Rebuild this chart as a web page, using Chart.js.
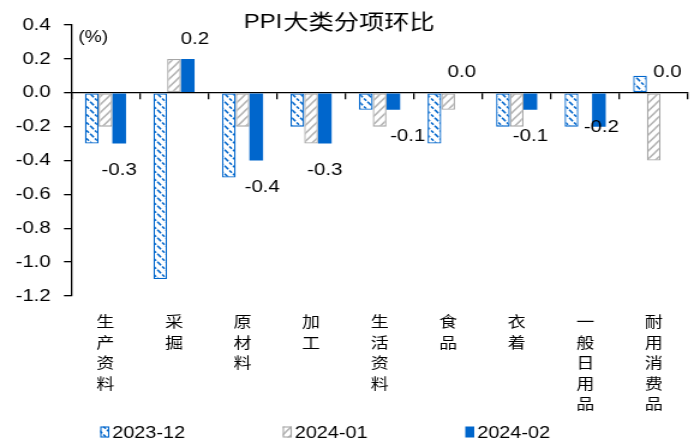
<!DOCTYPE html>
<html>
<head>
<meta charset="utf-8">
<script src="https://cdn.jsdelivr.net/npm/chart.js@4.4.1/dist/chart.umd.min.js"></script>
<style>
  html, body { margin: 0; padding: 0; background: #fff; }
  #wrap { width: 700px; height: 441px; position: relative; }
</style>
</head>
<body>
<!-- the reference picture is stretched sideways, so draw narrower and widen -->
<div id="wrap"><canvas id="ppiChart" width="583" height="441" style="width:700px;height:441px;display:block"></canvas></div>
<script>
const CATEGORIES = ['生产资料', '采掘', '原材料', '加工', '生活资料', '食品', '衣着', '一般日用品', '耐用消费品'];
const SERIES_NAMES = ['2023-12', '2024-01', '2024-02'];
const DEC_2023 = [-0.3, -1.1, -0.5, -0.2, -0.1, -0.3, -0.2, -0.2, 0.1];
const JAN_2024 = [-0.2, 0.2, -0.2, -0.3, -0.2, -0.1, -0.2, 0.0, -0.4];
const FEB_2024 = [-0.3, 0.2, -0.4, -0.3, -0.1, 0.0, -0.1, -0.2, 0.0];
const Y_TICKS = [0.4, 0.2, 0.0, -0.2, -0.4, -0.6, -0.8, -1.0, -1.2];

const BLUE = '#0066CC';
const GREY = '#A6A6A6';
const FONT = 'Arial, "Liberation Sans", sans-serif';
const CJK = '"Noto Sans CJK SC", sans-serif';

// label nudges (px) for the data labels that Excel placed oddly
const LABEL_NUDGE = { 1: [6, 0], 2: [5, 0], 4: [12, 0], 7: [2, -26] };

// ── Hatch patterns ────────────────────────────────────────────────────────────

function hatch(color, forward) {
  const c = document.createElement('canvas');
  c.width = 7; c.height = 8;
  const g = c.getContext('2d');
  g.fillStyle = '#fff';
  g.fillRect(0, 0, 7, 8);
  g.strokeStyle = color;
  g.lineWidth = 1.5;
  g.beginPath();
  if (forward) {
    g.moveTo(-0.875, 9); g.lineTo(7.875, -1);
    g.moveTo(-0.875, 1); g.lineTo(0.875, -1);
    g.moveTo(6.125, 9); g.lineTo(7.875, 7);
  } else {
    g.setLineDash([3, 1.5]);
    g.moveTo(-0.875, -1); g.lineTo(7.875, 9);
    g.moveTo(6.125, -1); g.lineTo(7.875, 1);
    g.moveTo(-0.875, 7); g.lineTo(0.875, 9);
  }
  g.stroke();
  return g.createPattern(c, 'repeat');
}

// ── Plugins ───────────────────────────────────────────────────────────────────

const textPlugin = {
  id: 'ppiText',
  afterDraw(chart) {
    const { ctx, chartArea } = chart;
    ctx.save();
    ctx.fillStyle = '#000';
    ctx.textBaseline = 'middle';
    ctx.textAlign = 'left';
    const latin = 'PPI';
    const han = '大类分项环比';
    ctx.font = `20px ${FONT}`;
    const w1 = ctx.measureText(latin).width;
    ctx.font = `21px ${CJK}`;
    const w2 = ctx.measureText(han).width;
    const x0 = 282 - (w1 + w2) / 2;
    ctx.fillText(han, x0 + w1 + 1, 21);
    ctx.font = `20px ${FONT}`;
    ctx.fillText(latin, x0, 22);
    ctx.font = `16px ${FONT}`;
    ctx.fillText('(%)', chartArea.left + 6, 38);

    // legend
    const y = 432;
    chart.data.datasets.forEach((ds, i) => {
      const x = 83.5 + i * 152;
      ctx.fillStyle = ds.backgroundColor;
      ctx.fillRect(x, y - 5.5, 7.5, 11);
      if (ds.borderWidth) {
        ctx.strokeStyle = ds.borderColor;
        ctx.lineWidth = 1.1;
        ctx.strokeRect(x + 0.5, y - 5, 6.5, 10);
      }
      ctx.fillStyle = '#000';
      ctx.font = `16.5px ${FONT}`;
      ctx.fillText(ds.label, x + 10, y + 1);
    });
    ctx.restore();
  },
};

const valueLabelPlugin = {
  id: 'valueLabels',
  afterDatasetsDraw(chart) {
    const { ctx } = chart;
    const meta = chart.getDatasetMeta(2);
    ctx.save();
    ctx.fillStyle = '#000';
    ctx.font = `17px ${FONT}`;
    ctx.textAlign = 'center';
    ctx.textBaseline = 'middle';
    meta.data.forEach((bar, i) => {
      const v = FEB_2024[i];
      const [dx, dy] = LABEL_NUDGE[i] || [0, 0];
      const y = v >= 0 ? bar.y - 20 : bar.y + 27;
      ctx.fillText(v.toFixed(1), bar.x + dx, y + dy);
    });
    ctx.restore();
  },
};

// ── Chart ─────────────────────────────────────────────────────────────────────

const datasets = [
  {
    label: SERIES_NAMES[0],
    data: DEC_2023,
    backgroundColor: hatch(BLUE, false),
    borderColor: BLUE,
    borderWidth: 1.3,
  },
  {
    label: SERIES_NAMES[1],
    data: JAN_2024,
    backgroundColor: hatch('#B4B4B4', true),
    borderColor: GREY,
    borderWidth: 1.3,
  },
  {
    label: SERIES_NAMES[2],
    data: FEB_2024,
    backgroundColor: BLUE,
    borderColor: BLUE,
    borderWidth: 0,
  },
];

new Chart(document.getElementById('ppiChart').getContext('2d'), {
  type: 'bar',
  data: { labels: CATEGORIES.map(c => c.split('')), datasets },
  plugins: [textPlugin, valueLabelPlugin],
  options: {
    responsive: false,
    animation: false,
    devicePixelRatio: 1,
    layout: { padding: { top: 25, left: 2, right: 10, bottom: 27 } },
    datasets: { bar: { categoryPercentage: 0.6, barPercentage: 1.0, borderSkipped: false } },
    plugins: {
      tooltip: { enabled: false },
      title: { display: false },
      legend: { display: false },
    },
    scales: {
      x: {
        position: 'bottom',
        afterFit: axis => { axis.height = 118; },
        ticks: {
          color: '#000',
          font: { family: CJK, size: 15, lineHeight: 1.37 },
          maxRotation: 0,
          autoSkip: false,
          padding: 15,
        },
        grid: { display: false, drawTicks: false, tickLength: 0 },
        border: { display: false },
      },
      xZero: {
        type: 'category',
        labels: CATEGORIES,
        position: { y: 0 },
        ticks: { display: false },
        grid: { drawOnChartArea: false, tickLength: 6, color: '#000', lineWidth: 1.3 },
        border: { color: '#000', width: 1.3 },
      },
      y: {
        min: -1.2,
        max: 0.4,
        afterBuildTicks: axis => { axis.ticks = Y_TICKS.map(v => ({ value: v })); },
        ticks: {
          color: '#000',
          font: { family: FONT, size: 17 },
          padding: 11,
          callback: v => Number(v).toFixed(1),
        },
        grid: { drawOnChartArea: false, tickLength: 6, color: '#000', lineWidth: 1.3 },
        border: { color: '#000', width: 1.3 },
      },
    },
  },
});
</script>
</body>
</html>
